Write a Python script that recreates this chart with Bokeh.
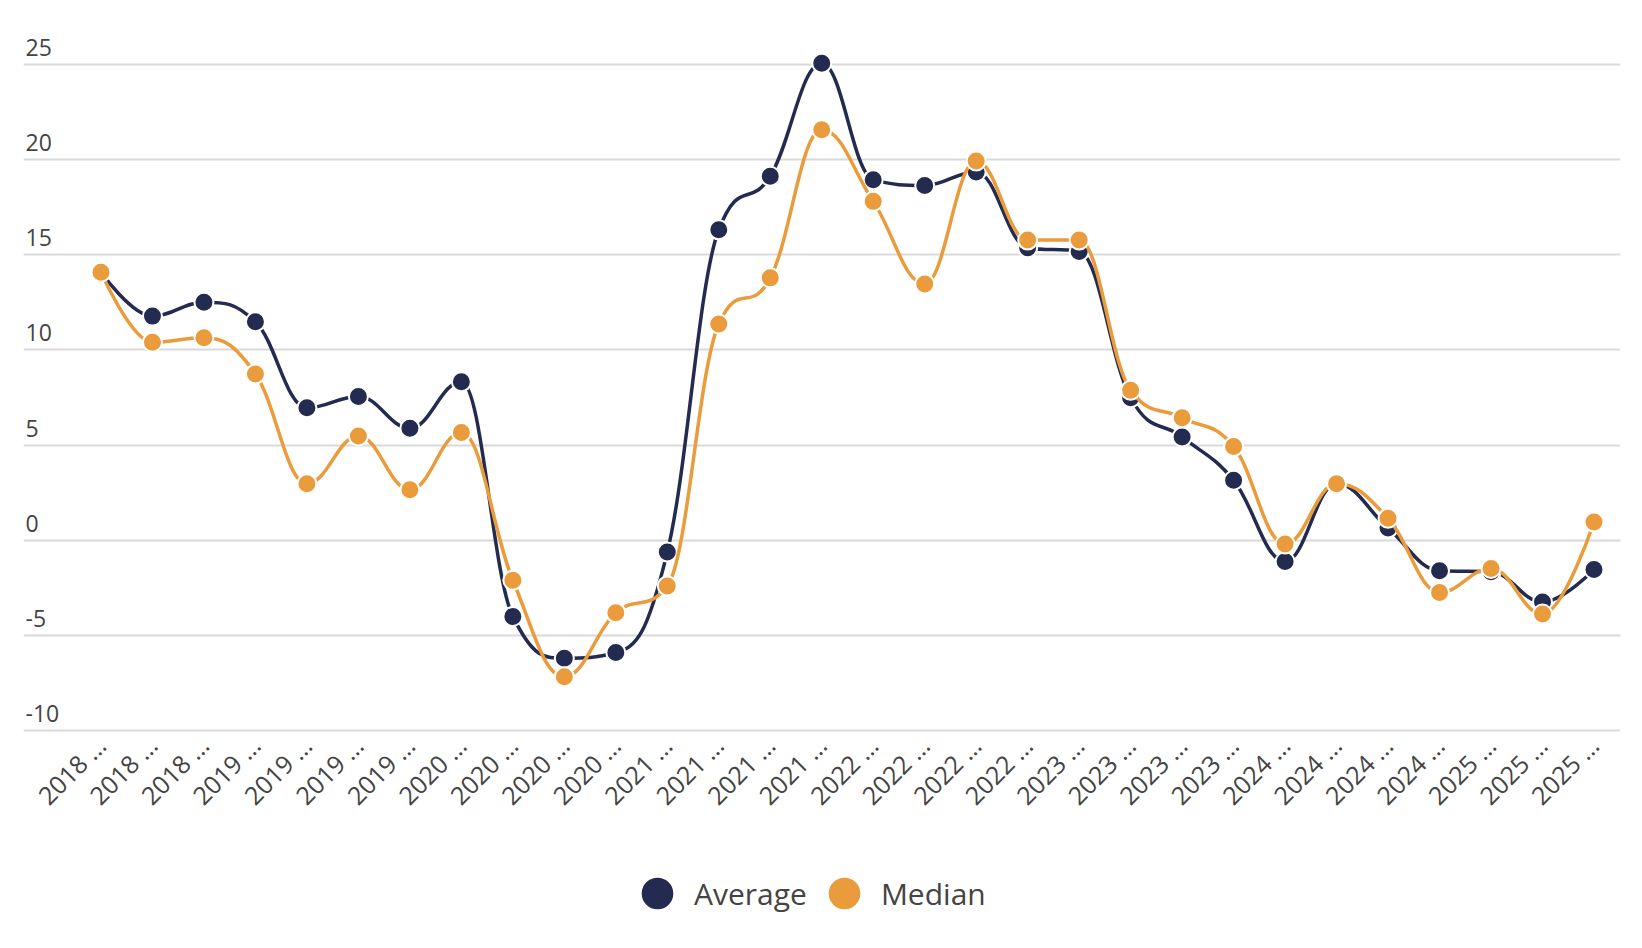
from math import pi
from bokeh.plotting import figure
from bokeh.models import Range1d, FixedTicker, Label, Legend, LegendItem
from bokeh.embed import file_html
from bokeh.resources import INLINE

# ---- data ----
quarter_years = (["2018"] * 3 + ["2019"] * 4 + ["2020"] * 4 + ["2021"] * 4 +
                 ["2022"] * 4 + ["2023"] * 4 + ["2024"] * 4 + ["2025"] * 3)
tick_labels = [y + " …" for y in quarter_years]

average = [14.1, 11.78, 12.51, 11.48, 6.96, 7.56, 5.89, 8.33, -4.0, -6.2,
           -5.9, -0.62, 16.32, 19.13, 25.07, 18.95, 18.65, 19.36, 15.37, 15.18,
           7.49, 5.43, 3.15, -1.12, 2.97, 0.64, -1.6, -1.65, -3.24, -1.53]
median = [14.09, 10.41, 10.64, 8.74, 2.97, 5.48, 2.65, 5.66, -2.1, -7.17,
          -3.81, -2.40, 11.37, 13.79, 21.58, 17.81, 13.47, 19.93, 15.78, 15.78,
          7.88, 6.44, 4.93, -0.2, 2.97, 1.16, -2.74, -1.48, -3.88, 0.96]
y_ticks = [-10, -5, 0, 5, 10, 15, 20, 25]

NAVY = "#232B50"
ORANGE = "#EA9B3B"
FONT = "Open Sans"
TEXT = "#444444"

x_idx = list(range(len(tick_labels)))


def spline_segments(xs, ys, smoothing=1.5):
    """Bezier control points of a smooth curve through the points."""
    n = len(xs)
    denom = smoothing + 1
    lc = [None] * n
    rc = [None] * n
    for i in range(1, n - 1):
        px, py = xs[i], ys[i]
        lx, ly = xs[i - 1], ys[i - 1]
        nx, ny = xs[i + 1], ys[i + 1]
        lcx = (smoothing * px + lx) / denom
        lcy = (smoothing * py + ly) / denom
        rcx = (smoothing * px + nx) / denom
        rcy = (smoothing * py + ny) / denom
        if rcx != lcx:
            corr = ((rcy - lcy) * (rcx - px)) / (rcx - lcx) + py - rcy
            lcy += corr
            rcy += corr
        if lcy > ly and lcy > py:
            lcy = max(ly, py)
            rcy = 2 * py - lcy
        elif lcy < ly and lcy < py:
            lcy = min(ly, py)
            rcy = 2 * py - lcy
        if rcy > ny and rcy > py:
            rcy = max(ny, py)
            lcy = 2 * py - rcy
        elif rcy < ny and rcy < py:
            rcy = min(ny, py)
            lcy = 2 * py - rcy
        lc[i] = (lcx, lcy)
        rc[i] = (rcx, rcy)
    seg = dict(x0=[], y0=[], x1=[], y1=[], cx0=[], cy0=[], cx1=[], cy1=[])
    for i in range(1, n):
        c0 = rc[i - 1] if rc[i - 1] else (xs[i - 1], ys[i - 1])
        c1 = lc[i] if lc[i] else (xs[i], ys[i])
        seg["x0"].append(xs[i - 1]); seg["y0"].append(ys[i - 1])
        seg["x1"].append(xs[i]); seg["y1"].append(ys[i])
        seg["cx0"].append(c0[0]); seg["cy0"].append(c0[1])
        seg["cx1"].append(c1[0]); seg["cy1"].append(c1[1])
    return seg


p = figure(frame_width=1597, frame_height=909,
           x_range=Range1d(-1.505, 29.515), y_range=Range1d(-20.77, 27),
           output_backend="svg", toolbar_location=None,
           min_border_left=23, min_border_right=10, min_border_top=26,
           min_border_bottom=0)
p.background_fill_color = "white"
p.border_fill_color = "white"
p.outline_line_color = None

# y axis hidden, labels drawn above gridlines
p.yaxis.visible = False
p.yaxis.ticker = FixedTicker(ticks=y_ticks)
p.ygrid.ticker = FixedTicker(ticks=y_ticks)
p.ygrid.grid_line_color = "#D9D9D9"
p.ygrid.grid_line_width = 2
p.xgrid.visible = False

for t in y_ticks:
    p.add_layout(Label(x=2, x_units="screen", y=t, y_units="data", y_offset=17,
                       text=str(t), text_font=FONT, text_font_size="23px",
                       text_color=TEXT, text_baseline="alphabetic",
                       text_align="left"))

# x axis, pinned at the bottom gridline
xa = p.xaxis[0]
xa.fixed_location = -10
xa.ticker = FixedTicker(ticks=x_idx)
xa.major_label_overrides = {i: lab for i, lab in zip(x_idx, tick_labels)}
xa.major_label_orientation = pi / 4
xa.major_label_text_font = FONT
xa.major_label_text_font_size = "25px"
xa.major_label_text_color = TEXT
xa.axis_line_color = None
xa.major_tick_line_color = None
xa.minor_tick_line_color = None
xa.major_tick_out = 0
xa.major_tick_in = 0
xa.major_label_standoff = 10

# series
sa = spline_segments(x_idx, average)
sm = spline_segments(x_idx, median)

p.bezier(x0="x0", y0="y0", x1="x1", y1="y1", cx0="cx0", cy0="cy0",
         cx1="cx1", cy1="cy1", source=sa, line_color=NAVY, line_width=3.5)
p.scatter(x_idx, average, size=21, fill_color="white", line_color=None)
r_avg = p.scatter(x_idx, average, size=15, fill_color=NAVY,
                  line_color=NAVY, line_width=2)
p.bezier(x0="x0", y0="y0", x1="x1", y1="y1", cx0="cx0", cy0="cy0",
         cx1="cx1", cy1="cy1", source=sm, line_color=ORANGE, line_width=3.5)
p.scatter(x_idx, median, size=21, fill_color="white", line_color=None)
r_med = p.scatter(x_idx, median, size=15, fill_color=ORANGE,
                  line_color=ORANGE, line_width=2)

legend = Legend(items=[LegendItem(label="Average", renderers=[r_avg]),
                       LegendItem(label="Median", renderers=[r_med])],
                orientation="horizontal", location=(597, 0),
                glyph_width=74, glyph_height=84, label_standoff=0,
                spacing=0, padding=0, margin=0,
                border_line_color=None, background_fill_alpha=0,
                label_text_font=FONT, label_text_font_size="30px",
                label_text_color=TEXT)
p.add_layout(legend, "center")

open("out.html", "w").write(file_html(p, INLINE))
